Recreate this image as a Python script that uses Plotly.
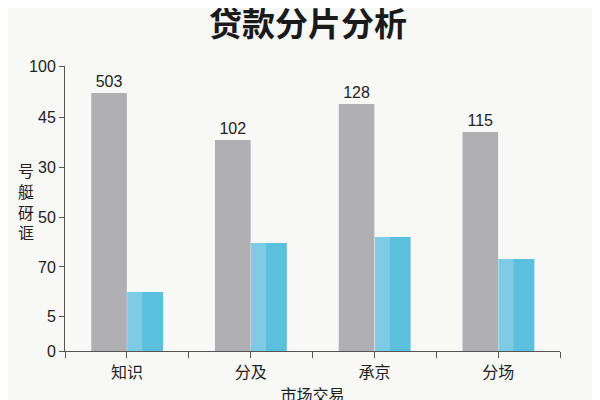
import plotly.graph_objects as go

# Data
categories = ['知识', '分及', '承京', '分场']
gray_values = [90.5, 74.0, 86.7, 76.8]
blue_values = [20.7, 37.9, 40.0, 32.3]
bar_labels = ['503', '102', '128', '115']

# Odd y tick labels as printed on the chart
y_tickvals = [0, 12, 29.5, 47, 64.5, 82, 100]
y_ticktext = ['0', '5', '70', '50', '30', '45', '100']

# y axis title, one character per line
y_title_chars = ['号', '艇', '砑', '诓']

x_pos = list(range(len(categories)))
bar_w = 0.288
num_font = 'Liberation Sans, Arial, Noto Sans CJK SC, sans-serif'

fig = go.Figure()

fig.add_trace(go.Bar(
    x=x_pos, y=gray_values,
    width=bar_w, offset=-bar_w,
    marker_color='#b0b0b4',
    marker_line_width=0,
    text=bar_labels, textposition='outside',
    textfont=dict(size=16, color='#222222', family=num_font),
    cliponaxis=False,
    showlegend=False
))

fig.add_trace(go.Bar(
    x=x_pos, y=blue_values,
    width=bar_w, offset=0.005,
    marker_color='#5bbfde',
    marker_line_width=0,
    showlegend=False
))

# lighter strip on the left side of the blue bars
fig.add_trace(go.Bar(
    x=x_pos, y=blue_values,
    width=0.12, offset=0.005,
    marker_color='#7ecbe6',
    marker_line_width=0,
    showlegend=False
))

fig.update_layout(
    width=600, height=400,
    barmode='overlay',
    paper_bgcolor='#f8f8f7',
    plot_bgcolor='#f8f8f7',
    # page body adds 8px, so margins are shifted to compensate
    margin=dict(l=57, r=48, t=58, b=57, autoexpand=False),
    font=dict(family='Noto Sans CJK SC, Noto Sans, sans-serif', color='#222222'),
    title=dict(
        text='<b>贷款分片分析</b>',
        font=dict(size=33, color='#1a1a1a', family='Noto Sans CJK SC'),
        x=0.5, xanchor='center', y=0.96, yanchor='middle'
    ),
    xaxis=dict(
        range=[-0.5, 3.5],
        tickvals=x_pos, ticktext=categories,
        ticks='outside', ticklen=6, tickcolor='#555555',
        ticklabelstandoff=1,
        tickfont=dict(size=16, color='#222222', family='Noto Sans CJK SC'),
        minor=dict(tickvals=[-0.5, 0.5, 1.5, 2.5, 3.5], ticks='outside',
                   ticklen=6, tickcolor='#555555'),
        showline=True, linecolor='#555555', linewidth=1,
        showgrid=False, zeroline=False,
        title=dict(text='市场交易', font=dict(size=16, color='#222222'), standoff=7)
    ),
    yaxis=dict(
        range=[0, 100],
        tickvals=y_tickvals, ticktext=y_ticktext,
        ticks='outside', ticklen=5, tickcolor='#555555',
        tickfont=dict(size=16, color='#222222', family=num_font),
        showline=True, linecolor='#555555', linewidth=1,
        showgrid=False, zeroline=False
    ),
    annotations=[dict(
        text='<br>'.join(y_title_chars),
        xref='paper', yref='paper',
        x=-0.079, y=0.525, xanchor='center', yanchor='middle',
        showarrow=False,
        font=dict(size=16, color='#222222', family='Noto Sans CJK SC')
    )]
)

fig.write_html('out.html')
